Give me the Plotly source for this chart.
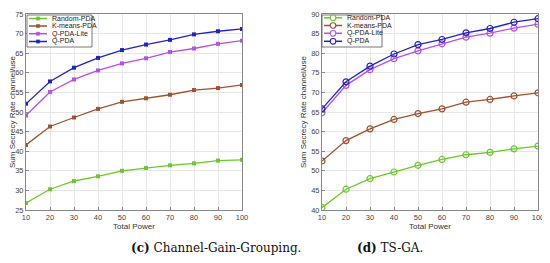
import plotly.graph_objects as go

power = [10, 20, 30, 40, 50, 60, 70, 80, 90, 100]

# (c) Channel-Gain-Grouping
c_random = [26.8, 30.3, 32.4, 33.6, 35.0, 35.7, 36.4, 36.9, 37.6, 37.8]
c_kmeans = [41.6, 46.3, 48.6, 50.8, 52.6, 53.5, 54.4, 55.6, 56.1, 56.9]
c_lite = [49.1, 55.1, 58.3, 60.6, 62.4, 63.7, 65.3, 66.2, 67.4, 68.2]
c_qpda = [52.1, 57.8, 61.3, 63.8, 65.8, 67.2, 68.4, 69.8, 70.6, 71.2]

# (d) TS-GA
d_random = [40.6, 45.3, 48.0, 49.7, 51.4, 52.9, 54.1, 54.7, 55.6, 56.3]
d_kmeans = [52.5, 57.7, 60.7, 63.1, 64.6, 65.8, 67.5, 68.2, 69.1, 69.9]
d_lite = [64.8, 71.8, 75.8, 78.6, 80.6, 82.4, 84.1, 85.1, 86.4, 87.4]
d_qpda = [65.8, 72.7, 76.7, 79.8, 82.2, 83.5, 85.2, 86.3, 87.9, 88.8]

names = ["Random-PDA", "K-means-PDA", "Q-PDA-Lite", "Q-PDA"]
colors = ["#6cc92a", "#a0522d", "#b650e8", "#2222cc"]

# the page body has an 8px margin: lay out in a 542x255 frame offset by 8px
W, H, OFF = 542, 255, 8


def xp(px):
    return (px - OFF) / W


def yp(py):
    return 1 - (py - OFF) / H


fig = go.Figure()
for name, col, ys in zip(names, colors, [c_random, c_kmeans, c_lite, c_qpda]):
    fig.add_trace(go.Scatter(x=power, y=ys, name=name, mode="lines+markers",
                             line=dict(color=col, width=1.3),
                             marker=dict(symbol="square", size=4, color=col),
                             xaxis="x", yaxis="y", showlegend=False))
for name, col, ys in zip(names, colors, [d_random, d_kmeans, d_lite, d_qpda]):
    fig.add_trace(go.Scatter(x=power, y=ys, name=name, mode="lines+markers",
                             line=dict(color=col, width=1.3),
                             marker=dict(symbol="circle-open", size=6, color=col, line=dict(width=1.2)),
                             xaxis="x2", yaxis="y2", showlegend=False))

tickfont = dict(family="Liberation Sans, Arial", size=7.5, color="#444")
titlefont = dict(family="Liberation Sans, Arial", size=8, color="#333")


def xax(domain, anchor):
    return dict(domain=domain, anchor=anchor, range=[10, 100], tickvals=power,
                showgrid=True, gridcolor="#e6e6e6", gridwidth=1,
                showline=True, linecolor="#888", linewidth=1, mirror=True,
                ticks="inside", ticklen=3, tickcolor="#888",
                tickfont=tickfont, zeroline=False, automargin=False,
                title=dict(text="Total Power", font=titlefont, standoff=2))


def yax(domain, anchor, rng):
    return dict(domain=domain, anchor=anchor, range=rng, dtick=5,
                showgrid=True, gridcolor="#e6e6e6", gridwidth=1,
                showline=True, linecolor="#888", linewidth=1, mirror=True,
                ticks="inside", ticklen=3, tickcolor="#888",
                tickfont=tickfont, zeroline=False, automargin=False,
                title=dict(text="Sum Secrecy Rate channel/use", font=titlefont, standoff=3))


ydom = [yp(210), yp(14)]

shapes = []
annotations = []


def legend(box, rows, line_x, text_x, marker_kind):
    x0, y0, x1, y1 = box
    shapes.append(dict(type="rect", xref="paper", yref="paper",
                       x0=xp(x0), x1=xp(x1), y0=yp(y1), y1=yp(y0),
                       fillcolor="white", line=dict(color="#555", width=0.8), layer="above"))
    for name, col, ry in zip(names, colors, rows):
        shapes.append(dict(type="line", xref="paper", yref="paper",
                           x0=xp(line_x[0]), x1=xp(line_x[1]), y0=yp(ry), y1=yp(ry),
                           line=dict(color=col, width=1.5), layer="above"))
        mx = (line_x[0] + line_x[1]) / 2
        if marker_kind == "square":
            shapes.append(dict(type="rect", xref="paper", yref="paper",
                               x0=xp(mx - 1.6), x1=xp(mx + 1.6), y0=yp(ry + 1.6), y1=yp(ry - 1.6),
                               fillcolor=col, line=dict(color=col, width=0.5), layer="above"))
        else:
            shapes.append(dict(type="circle", xref="paper", yref="paper",
                               x0=xp(mx - 2.8), x1=xp(mx + 2.8), y0=yp(ry + 2.8), y1=yp(ry - 2.8),
                               fillcolor="white", line=dict(color=col, width=1.1), layer="above"))
        annotations.append(dict(text=name, x=xp(text_x), y=yp(ry), xref="paper", yref="paper",
                                xanchor="left", yanchor="middle", showarrow=False,
                                font=dict(family="Liberation Sans, Arial", size=7, color="#222")))


legend((27, 15, 92, 47), [18.5, 26, 33.7, 41.5], (29, 47), 49.5, "square")
legend((322, 15, 382, 47), [17.8, 25.5, 33.3, 41.3], (324, 342), 344.5, "circle")

annotations += [
    dict(text="<b>(c)</b> Channel-Gain-Grouping.", x=xp(129), y=yp(247.5),
         xref="paper", yref="paper", showarrow=False, yanchor="middle",
         font=dict(family="DejaVu Serif, Liberation Serif", size=12, color="#111")),
    dict(text="<b>(d)</b> TS-GA.", x=xp(425), y=yp(247.5),
         xref="paper", yref="paper", showarrow=False, yanchor="middle",
         font=dict(family="DejaVu Serif, Liberation Serif", size=12, color="#111")),
]

fig.update_layout(
    width=W, height=H,
    margin=dict(l=0, r=0, t=0, b=0),
    paper_bgcolor="white", plot_bgcolor="white",
    xaxis=xax([xp(26), xp(242)], "y"),
    yaxis=yax(ydom, "x", [25, 75]),
    xaxis2=xax([xp(322), xp(538)], "y2"),
    yaxis2=yax(ydom, "x2", [40, 90]),
    shapes=shapes,
    annotations=annotations,
    showlegend=False,
)

fig.write_html("out.html")
